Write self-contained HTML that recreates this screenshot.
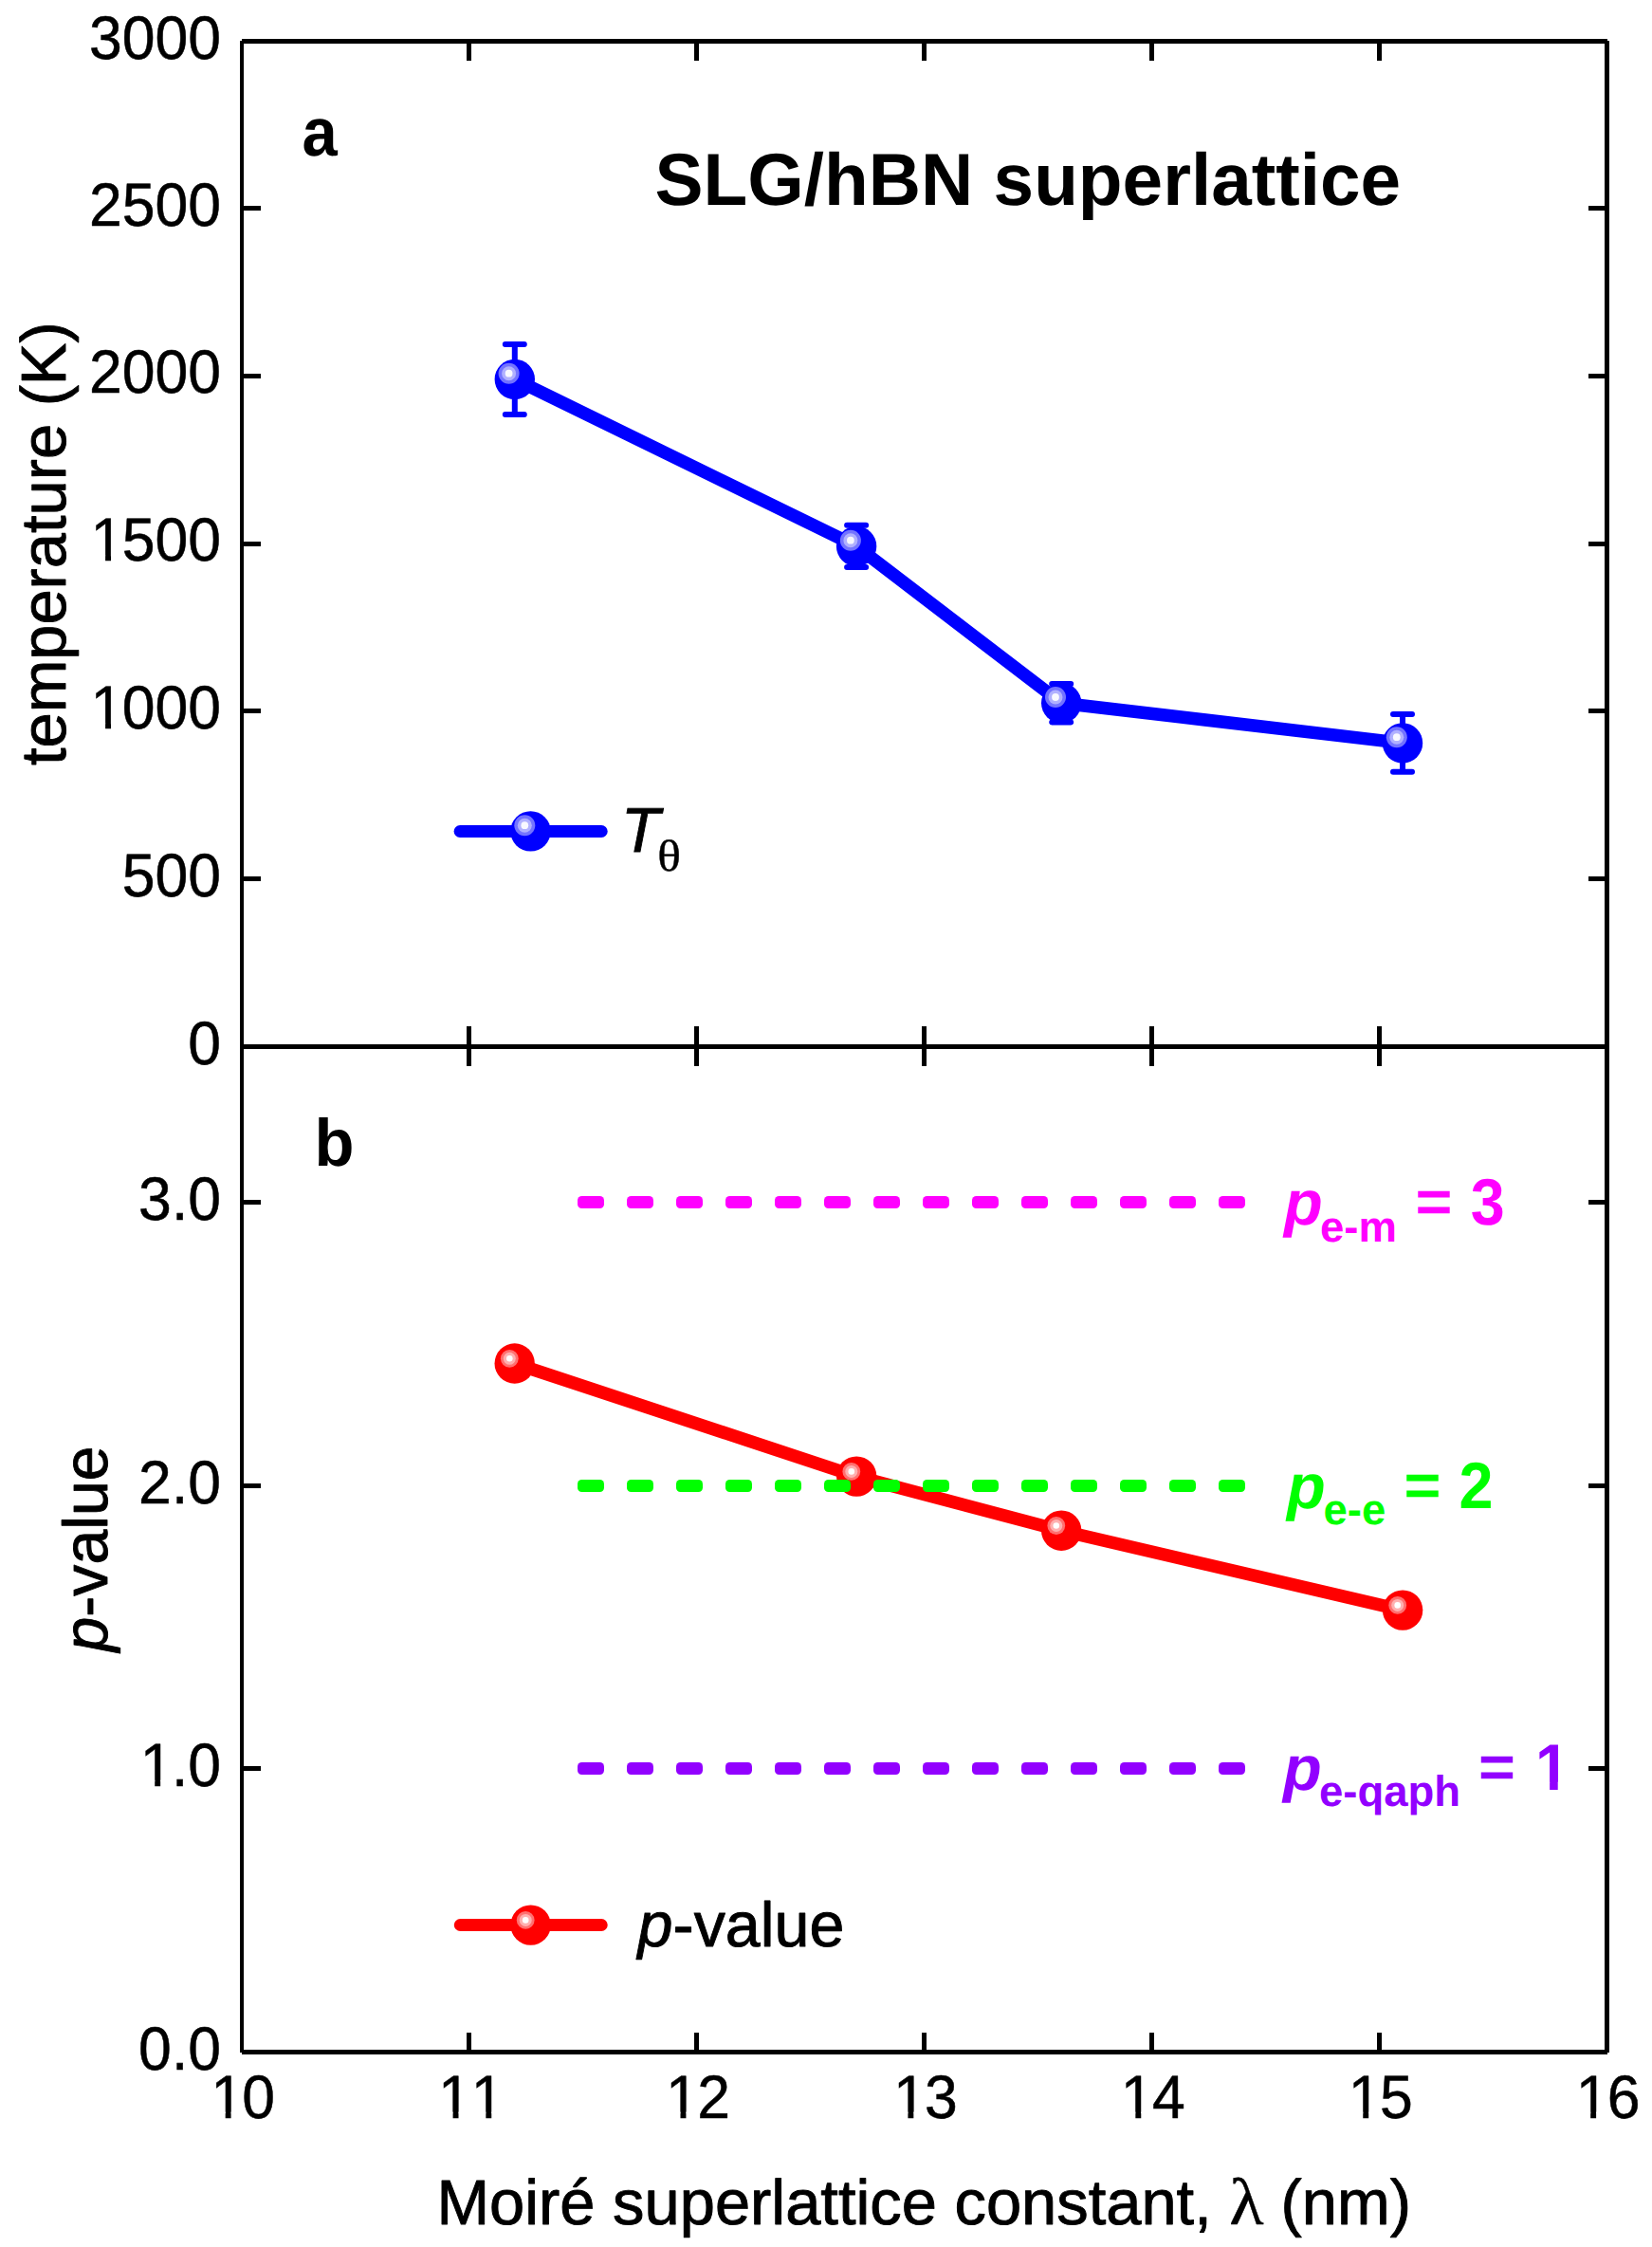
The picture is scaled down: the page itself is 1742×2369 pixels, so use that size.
<!DOCTYPE html>
<html lang="en"><head><meta charset="utf-8"><title>SLG/hBN superlattice</title>
<style>html,body{margin:0;padding:0;background:#fff}body{width:1742px;height:2369px;overflow:hidden}svg{display:block}text{font-kerning:none}</style>
</head><body>
<svg width="1742" height="2369" viewBox="0 0 1742 2369" text-rendering="geometricPrecision">
<rect width="100%" height="100%" fill="#fff"/>
<g fill="#000" shape-rendering="crispEdges">
<rect x="253" y="43" width="4" height="2121"/>
<rect x="1692" y="43" width="5" height="2121"/>
<rect x="255" y="41" width="1440" height="5"/>
<rect x="255" y="1101" width="1440" height="5"/>
<rect x="255" y="2161" width="1440" height="5"/>
<rect x="492" y="46" width="5" height="18"/>
<rect x="492" y="1082" width="5" height="42"/>
<rect x="492" y="2143" width="5" height="18"/>
<rect x="732" y="46" width="5" height="18"/>
<rect x="732" y="1082" width="5" height="42"/>
<rect x="732" y="2143" width="5" height="18"/>
<rect x="972" y="46" width="5" height="18"/>
<rect x="972" y="1082" width="5" height="42"/>
<rect x="972" y="2143" width="5" height="18"/>
<rect x="1212" y="46" width="5" height="18"/>
<rect x="1212" y="1082" width="5" height="42"/>
<rect x="1212" y="2143" width="5" height="18"/>
<rect x="1452" y="46" width="5" height="18"/>
<rect x="1452" y="1082" width="5" height="42"/>
<rect x="1452" y="2143" width="5" height="18"/>
<rect x="257" y="924" width="18" height="5"/>
<rect x="1675" y="924" width="17" height="5"/>
<rect x="257" y="747" width="18" height="5"/>
<rect x="1675" y="747" width="17" height="5"/>
<rect x="257" y="571" width="18" height="5"/>
<rect x="1675" y="571" width="17" height="5"/>
<rect x="257" y="394" width="18" height="5"/>
<rect x="1675" y="394" width="17" height="5"/>
<rect x="257" y="217" width="18" height="5"/>
<rect x="1675" y="217" width="17" height="5"/>
<rect x="257" y="1862" width="18" height="5"/>
<rect x="1675" y="1862" width="17" height="5"/>
<rect x="257" y="1564" width="18" height="5"/>
<rect x="1675" y="1564" width="17" height="5"/>
<rect x="257" y="1265" width="18" height="5"/>
<rect x="1675" y="1265" width="17" height="5"/>
</g>
<g font-family="'Liberation Sans', Arial, sans-serif" font-size="62.5" fill="#000" stroke="#000" stroke-width="0.5">
<text transform="translate(0 1121.5) scale(1 1.03)" x="198.24" y="0">0</text>
<text transform="translate(0 944.7) scale(1 1.03)" x="128.72 163.48 198.24" y="0">500</text>
<text transform="translate(0 768.0) scale(1 1.03)" x="95.56 128.72 163.48 198.24" y="0">1000</text>
<text transform="translate(0 591.2) scale(1 1.03)" x="95.56 128.72 163.48 198.24" y="0">1500</text>
<text transform="translate(0 414.4) scale(1 1.03)" x="93.96 128.72 163.48 198.24" y="0">2000</text>
<text transform="translate(0 237.7) scale(1 1.03)" x="93.96 128.72 163.48 198.24" y="0">2500</text>
<text transform="translate(0 61.7) scale(1 1.03)" x="93.96 128.72 163.48 198.24" y="0">3000</text>
<text transform="translate(0 2181.8) scale(1 1.03)" x="146.12 180.88 198.24" y="0">0.0</text>
<text transform="translate(0 1882.8) scale(1 1.03)" x="147.72 180.88 198.24" y="0">1.0</text>
<text transform="translate(0 1584.8) scale(1 1.03)" x="146.12 180.88 198.24" y="0">2.0</text>
<text transform="translate(0 1285.8) scale(1 1.03)" x="146.12 180.88 198.24" y="0">3.0</text>
<text transform="translate(0 2232.6) scale(1 1.03)" x="222.14 255.30" y="0">10</text>
<text transform="translate(0 2232.6) scale(1 1.03)" x="462.06 496.82" y="0">11</text>
<text transform="translate(0 2232.6) scale(1 1.03)" x="701.98 735.14" y="0">12</text>
<text transform="translate(0 2232.6) scale(1 1.03)" x="941.90 975.06" y="0">13</text>
<text transform="translate(0 2232.6) scale(1 1.03)" x="1181.82 1214.98" y="0">14</text>
<text transform="translate(0 2232.6) scale(1 1.03)" x="1421.74 1454.90" y="0">15</text>
<text transform="translate(0 2232.6) scale(1 1.03)" x="1661.66 1694.82" y="0">16</text>
</g>
<g fill="#fff">
<rect x="98.72" y="761.94" width="12.36" height="8.21"/>
<rect x="117.00" y="761.94" width="11.87" height="8.21"/>
<rect x="98.72" y="585.19" width="12.36" height="8.21"/>
<rect x="117.00" y="585.19" width="11.87" height="8.21"/>
<rect x="150.88" y="1876.79" width="12.36" height="8.21"/>
<rect x="169.16" y="1876.79" width="11.87" height="8.21"/>
<rect x="225.30" y="2226.59" width="12.36" height="8.21"/>
<rect x="243.58" y="2226.59" width="11.87" height="8.21"/>
<rect x="465.22" y="2226.59" width="12.36" height="8.21"/>
<rect x="483.50" y="2226.59" width="11.87" height="8.21"/>
<rect x="499.98" y="2226.59" width="12.36" height="8.21"/>
<rect x="518.26" y="2226.59" width="11.87" height="8.21"/>
<rect x="705.14" y="2226.59" width="12.36" height="8.21"/>
<rect x="723.42" y="2226.59" width="11.87" height="8.21"/>
<rect x="945.06" y="2226.59" width="12.36" height="8.21"/>
<rect x="963.34" y="2226.59" width="11.87" height="8.21"/>
<rect x="1184.98" y="2226.59" width="12.36" height="8.21"/>
<rect x="1203.26" y="2226.59" width="11.87" height="8.21"/>
<rect x="1424.90" y="2226.59" width="12.36" height="8.21"/>
<rect x="1443.18" y="2226.59" width="11.87" height="8.21"/>
<rect x="1664.82" y="2226.59" width="12.36" height="8.21"/>
<rect x="1683.10" y="2226.59" width="11.87" height="8.21"/>
</g>
<g font-family="'Liberation Sans', Arial, sans-serif" font-size="66.8" fill="#000" stroke="#000" stroke-width="0.9" stroke-linejoin="round">
<text transform="translate(68.6,573.2) rotate(-90)" text-anchor="middle">temperature (K)</text>
<text transform="translate(113.3,1633) rotate(-90)" text-anchor="middle" font-size="66.2"><tspan font-style="italic">p</tspan>-value</text>
<text x="460.4" y="2344.5" id="xt" font-size="66.85">Moiré superlattice constant,</text>
<text id="lam" transform="translate(1296.2 2344.6) scale(1.07 1)" font-family="'Liberation Serif', 'Times New Roman', serif" font-size="70" stroke-width="0.4">λ</text>
<text id="xt2" x="1350.6" y="2344.5" font-size="66.85">(nm)</text>
</g>
<g font-family="'Liberation Sans', Arial, sans-serif" font-weight="bold" fill="#000">
<text id="la" transform="translate(318.6 164) scale(0.93 1)" font-size="72">a</text>
<text id="lb" transform="translate(331.6 1228.8) scale(0.975 1)" font-size="70.5">b</text>
<text id="ttl" transform="translate(690.6 215.8) scale(1 1.015)" font-size="76.5">SLG/hBN superlattice</text>
</g>
<g stroke="#0000ff" fill="none">
<polyline stroke-width="13.5" stroke-linejoin="round" points="542.8,399.9 903.1,575.9 1119.2,741.2 1479.0,783.4"/>
<path stroke-width="6" stroke-linecap="round" d="M542.8 362.9V436.9M532.8 362.9H552.8M532.8 436.9H552.8"/>
<path stroke-width="6" stroke-linecap="round" d="M903.1 553.6999999999999V598.1M893.1 553.6999999999999H913.1M893.1 598.1H913.1"/>
<path stroke-width="6" stroke-linecap="round" d="M1119.2 721.0V761.4000000000001M1109.2 721.0H1129.2M1109.2 761.4000000000001H1129.2"/>
<path stroke-width="6" stroke-linecap="round" d="M1479.0 753.0V813.8M1469.0 753.0H1489.0M1469.0 813.8H1489.0"/>
</g>
<circle cx="542.8" cy="399.9" r="21.2" fill="#0000ff"/><circle cx="536.6" cy="393.7" r="11" fill="#7373ff"/><circle cx="536.6" cy="393.7" r="7.5" fill="#b0b0ff"/><circle cx="536.6" cy="393.7" r="3.9" fill="#f8f8ff"/>
<circle cx="903.1" cy="575.9" r="21.2" fill="#0000ff"/><circle cx="896.9" cy="569.7" r="11" fill="#7373ff"/><circle cx="896.9" cy="569.7" r="7.5" fill="#b0b0ff"/><circle cx="896.9" cy="569.7" r="3.9" fill="#f8f8ff"/>
<circle cx="1119.2" cy="741.2" r="21.2" fill="#0000ff"/><circle cx="1113.0" cy="735.0" r="11" fill="#7373ff"/><circle cx="1113.0" cy="735.0" r="7.5" fill="#b0b0ff"/><circle cx="1113.0" cy="735.0" r="3.9" fill="#f8f8ff"/>
<circle cx="1479.0" cy="783.4" r="21.2" fill="#0000ff"/><circle cx="1472.8" cy="777.2" r="11" fill="#7373ff"/><circle cx="1472.8" cy="777.2" r="7.5" fill="#b0b0ff"/><circle cx="1472.8" cy="777.2" r="3.9" fill="#f8f8ff"/>
<line x1="485.1" y1="876.5" x2="634.2" y2="876.5" stroke="#0000ff" stroke-width="13" stroke-linecap="round"/>
<circle cx="559.5" cy="876.4" r="21.2" fill="#0000ff"/><circle cx="553.3" cy="870.2" r="11" fill="#7373ff"/><circle cx="553.3" cy="870.2" r="7.5" fill="#b0b0ff"/><circle cx="553.3" cy="870.2" r="3.9" fill="#f8f8ff"/>
<text id="lgT" x="655" y="898.2" font-family="'Liberation Sans', Arial, sans-serif" font-size="66.67" font-style="italic" stroke="#000" stroke-width="0.9">T</text>
<text id="lgth" transform="translate(693.2,918.2) scale(1.12,1.02)" font-family="'Liberation Serif', 'Times New Roman', serif" font-size="46" stroke="#000" stroke-width="0.4">θ</text>
<polyline fill="none" stroke="#ff0000" stroke-width="13.5" stroke-linejoin="round" points="542.7,1437.5 903.2,1556.6 1119.2,1613.7 1479.1,1697.6"/>
<circle cx="542.7" cy="1437.5" r="21.2" fill="#ff0000"/><circle cx="537.3" cy="1432.3" r="9.4" fill="#ff7070"/><circle cx="537.3" cy="1432.3" r="6.5" fill="#ffb0b0"/><circle cx="537.3" cy="1432.3" r="3.3" fill="#ffffff"/>
<circle cx="903.2" cy="1556.6" r="21.2" fill="#ff0000"/><circle cx="897.8" cy="1551.4" r="9.4" fill="#ff7070"/><circle cx="897.8" cy="1551.4" r="6.5" fill="#ffb0b0"/><circle cx="897.8" cy="1551.4" r="3.3" fill="#ffffff"/>
<circle cx="1119.2" cy="1613.7" r="21.2" fill="#ff0000"/><circle cx="1113.8" cy="1608.5" r="9.4" fill="#ff7070"/><circle cx="1113.8" cy="1608.5" r="6.5" fill="#ffb0b0"/><circle cx="1113.8" cy="1608.5" r="3.3" fill="#ffffff"/>
<circle cx="1479.1" cy="1697.6" r="21.2" fill="#ff0000"/><circle cx="1473.7" cy="1692.4" r="9.4" fill="#ff7070"/><circle cx="1473.7" cy="1692.4" r="6.5" fill="#ffb0b0"/><circle cx="1473.7" cy="1692.4" r="3.3" fill="#ffffff"/>
<g fill="#ff00ff">
<rect x="609" y="1261.0" width="28" height="13" rx="4.5" ry="4.5"/>
<rect x="661" y="1261.0" width="28" height="13" rx="4.5" ry="4.5"/>
<rect x="713" y="1261.0" width="28" height="13" rx="4.5" ry="4.5"/>
<rect x="765" y="1261.0" width="28" height="13" rx="4.5" ry="4.5"/>
<rect x="817" y="1261.0" width="28" height="13" rx="4.5" ry="4.5"/>
<rect x="869" y="1261.0" width="28" height="13" rx="4.5" ry="4.5"/>
<rect x="921" y="1261.0" width="28" height="13" rx="4.5" ry="4.5"/>
<rect x="973" y="1261.0" width="28" height="13" rx="4.5" ry="4.5"/>
<rect x="1025" y="1261.0" width="28" height="13" rx="4.5" ry="4.5"/>
<rect x="1077" y="1261.0" width="28" height="13" rx="4.5" ry="4.5"/>
<rect x="1129" y="1261.0" width="28" height="13" rx="4.5" ry="4.5"/>
<rect x="1181" y="1261.0" width="28" height="13" rx="4.5" ry="4.5"/>
<rect x="1233" y="1261.0" width="28" height="13" rx="4.5" ry="4.5"/>
<rect x="1285" y="1261.0" width="28" height="13" rx="4.5" ry="4.5"/>
</g>
<g fill="#00ff00">
<rect x="609" y="1560.0" width="28" height="13" rx="4.5" ry="4.5"/>
<rect x="661" y="1560.0" width="28" height="13" rx="4.5" ry="4.5"/>
<rect x="713" y="1560.0" width="28" height="13" rx="4.5" ry="4.5"/>
<rect x="765" y="1560.0" width="28" height="13" rx="4.5" ry="4.5"/>
<rect x="817" y="1560.0" width="28" height="13" rx="4.5" ry="4.5"/>
<rect x="869" y="1560.0" width="28" height="13" rx="4.5" ry="4.5"/>
<rect x="921" y="1560.0" width="28" height="13" rx="4.5" ry="4.5"/>
<rect x="973" y="1560.0" width="28" height="13" rx="4.5" ry="4.5"/>
<rect x="1025" y="1560.0" width="28" height="13" rx="4.5" ry="4.5"/>
<rect x="1077" y="1560.0" width="28" height="13" rx="4.5" ry="4.5"/>
<rect x="1129" y="1560.0" width="28" height="13" rx="4.5" ry="4.5"/>
<rect x="1181" y="1560.0" width="28" height="13" rx="4.5" ry="4.5"/>
<rect x="1233" y="1560.0" width="28" height="13" rx="4.5" ry="4.5"/>
<rect x="1285" y="1560.0" width="28" height="13" rx="4.5" ry="4.5"/>
</g>
<g fill="#9200ff">
<rect x="609" y="1858.0" width="28" height="13" rx="4.5" ry="4.5"/>
<rect x="661" y="1858.0" width="28" height="13" rx="4.5" ry="4.5"/>
<rect x="713" y="1858.0" width="28" height="13" rx="4.5" ry="4.5"/>
<rect x="765" y="1858.0" width="28" height="13" rx="4.5" ry="4.5"/>
<rect x="817" y="1858.0" width="28" height="13" rx="4.5" ry="4.5"/>
<rect x="869" y="1858.0" width="28" height="13" rx="4.5" ry="4.5"/>
<rect x="921" y="1858.0" width="28" height="13" rx="4.5" ry="4.5"/>
<rect x="973" y="1858.0" width="28" height="13" rx="4.5" ry="4.5"/>
<rect x="1025" y="1858.0" width="28" height="13" rx="4.5" ry="4.5"/>
<rect x="1077" y="1858.0" width="28" height="13" rx="4.5" ry="4.5"/>
<rect x="1129" y="1858.0" width="28" height="13" rx="4.5" ry="4.5"/>
<rect x="1181" y="1858.0" width="28" height="13" rx="4.5" ry="4.5"/>
<rect x="1233" y="1858.0" width="28" height="13" rx="4.5" ry="4.5"/>
<rect x="1285" y="1858.0" width="28" height="13" rx="4.5" ry="4.5"/>
</g>
<line x1="485.3" y1="2029.5" x2="634.2" y2="2029.5" stroke="#ff0000" stroke-width="13" stroke-linecap="round"/>
<circle cx="559.6" cy="2029.6" r="21.2" fill="#ff0000"/><circle cx="554.2" cy="2024.4" r="9.4" fill="#ff7070"/><circle cx="554.2" cy="2024.4" r="6.5" fill="#ffb0b0"/><circle cx="554.2" cy="2024.4" r="3.3" fill="#ffffff"/>
<text id="lgp" x="672.6" y="2052.3" font-family="'Liberation Sans', Arial, sans-serif" font-size="66.4" stroke="#000" stroke-width="0.9" stroke-linejoin="round"><tspan font-style="italic">p</tspan>-value</text>
<g font-family="'Liberation Sans', Arial, sans-serif" font-weight="bold" fill="#ff00ff"><text id="mp" x="1354" y="1291.3" font-size="66.67" font-style="italic">p</text><text id="ms" x="1392" y="1309.0" font-size="45.5">e-m</text><text id="me" transform="translate(1492.5 1288.3) scale(1 0.93)" font-size="66.67">=</text><text id="mv" transform="translate(1550.7 1291.3) scale(0.97 1.035)" font-size="66.67">3</text></g>
<g font-family="'Liberation Sans', Arial, sans-serif" font-weight="bold" fill="#00ff00"><text id="gp" x="1357" y="1589.6" font-size="66.67" font-style="italic">p</text><text id="gs" x="1395.5" y="1607.3" font-size="45.5">e-e</text><text id="ge" transform="translate(1480.5 1586.6) scale(1 0.93)" font-size="66.67">=</text><text id="gv" transform="translate(1538.5 1589.6) scale(0.97 1.035)" font-size="66.67">2</text></g>
<g font-family="'Liberation Sans', Arial, sans-serif" font-weight="bold" fill="#9200ff"><text id="up" x="1353" y="1886.6" font-size="66.67" font-style="italic">p</text><text id="us" x="1391" y="1904.3" font-size="45.5">e-qaph</text><text id="ue" transform="translate(1559 1883.6) scale(1 0.93)" font-size="66.67">=</text><text id="uv" transform="translate(1618.9 1886.6) scale(0.97 1.035)" font-size="66.67">1</text></g>
<g fill="#fff"><rect x="1621.77" y="1878.66" width="12.37" height="8.94"/><rect x="1642.72" y="1878.66" width="11.55" height="8.94"/></g>
</svg>
</body></html>
